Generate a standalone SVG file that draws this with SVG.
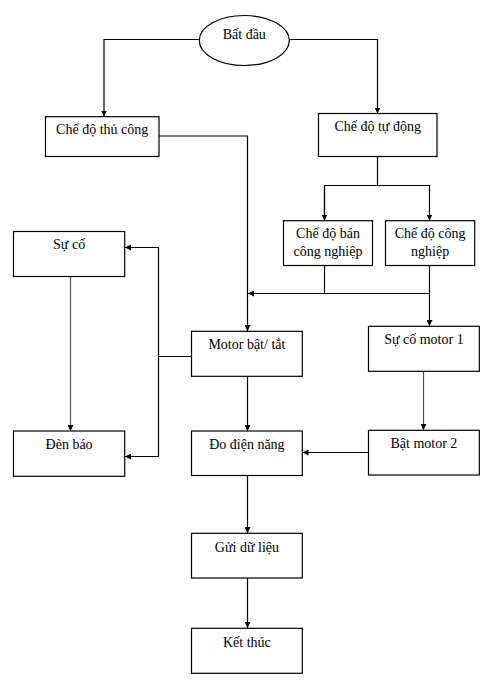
<svg xmlns="http://www.w3.org/2000/svg" width="494" height="689" viewBox="0 0 494 689">
<style>
.box{fill:#fff;stroke:#000;stroke-width:1.2}
.t{font-family:"Liberation Serif","Times New Roman",serif;font-size:14px;fill:#000;text-anchor:middle}
.c{fill:none;stroke:#000;stroke-width:1.2}
.g{stroke:#555}
</style>
<defs>
<marker id="ah" markerUnits="userSpaceOnUse" markerWidth="7" markerHeight="6" refX="6" refY="3" orient="auto">
<path d="M0,0 L6,3 L0,6 z" fill="#000"/>
</marker>
</defs>
<rect width="494" height="689" fill="#fff"/>
<g id="connectors">
<path class="c" d="M199,39.5 H104 V116.5" marker-end="url(#ah)"/>
<path class="c" d="M289,39.5 H377.5 V113.5" marker-end="url(#ah)"/>
<path class="c" d="M159,136 H247.5 V331" marker-end="url(#ah)"/>
<path class="c" d="M377.5,156.5 V185.5"/>
<path class="c" d="M324.5,220.5 V185.5 H429.5 V220.5" marker-end="url(#ah)"/>
<path class="c" d="M324.5,185.5 V220.5" marker-end="url(#ah)"/>
<path class="c" d="M324.5,265.5 V293.5"/>
<path class="c" d="M429.5,265.5 V326" marker-end="url(#ah)"/>
<path class="c" d="M429.5,293.5 H248" marker-end="url(#ah)"/>
<path class="c" d="M191.5,356.5 H158.5 V247.5 H125" marker-end="url(#ah)"/>
<path class="c" d="M158.5,356.5 V456.5 H125" marker-end="url(#ah)"/>
<path class="c g" d="M70.5,276.5 V431" marker-end="url(#ah)"/>
<path class="c" d="M247.5,376.5 V431" marker-end="url(#ah)"/>
<path class="c g" d="M423.5,371.5 V430" marker-end="url(#ah)"/>
<path class="c" d="M368.5,452.5 H302.5" marker-end="url(#ah)"/>
<path class="c" d="M247.5,475.5 V533" marker-end="url(#ah)"/>
<path class="c" d="M247.5,578 V628" marker-end="url(#ah)"/>
</g>
<g id="start">
<ellipse class="box" cx="244.3" cy="40.5" rx="45" ry="25"/>
<text class="t" x="244.3" y="38.5">Bất đầu</text>
</g>
<g id="manual">
<rect class="box" x="45.5" y="116.7" width="113.5" height="39.8"/>
<text class="t" x="102.2" y="134">Chế độ thủ công</text>
</g>
<g id="auto">
<rect class="box" x="318.5" y="113.5" width="118.5" height="43"/>
<text class="t" x="377.7" y="131">Chế độ tự động</text>
</g>
<g id="semi">
<rect class="box" x="283.5" y="220.7" width="89" height="44.8"/>
<text class="t" x="328" y="238.3">Chế độ bán</text>
<text class="t" x="328" y="256">công nghiệp</text>
</g>
<g id="industrial">
<rect class="box" x="385.5" y="220.7" width="89.2" height="44.8"/>
<text class="t" x="430.1" y="238.3">Chế độ công</text>
<text class="t" x="430.1" y="256">nghiệp</text>
</g>
<g id="fault">
<rect class="box" x="13.5" y="231.5" width="111.2" height="45"/>
<text class="t" x="69.1" y="249">Sự cố</text>
</g>
<g id="motor">
<rect class="box" x="191.5" y="331.3" width="110.8" height="45"/>
<text class="t" x="246.9" y="349">Motor bật/ tắt</text>
</g>
<g id="fault1">
<rect class="box" x="368.5" y="326.3" width="110.8" height="45"/>
<text class="t" x="423.9" y="344">Sự cố motor 1</text>
</g>
<g id="lamp">
<rect class="box" x="13.5" y="431" width="111.2" height="45.3"/>
<text class="t" x="69.1" y="449">Đèn báo</text>
</g>
<g id="measure">
<rect class="box" x="191.5" y="431" width="110.8" height="44.5"/>
<text class="t" x="246.9" y="449">Đo điện năng</text>
</g>
<g id="motor2">
<rect class="box" x="368.5" y="430.3" width="110.8" height="44.7"/>
<text class="t" x="423.9" y="448.3">Bật motor 2</text>
</g>
<g id="send">
<rect class="box" x="191.5" y="533.3" width="110.8" height="44.7"/>
<text class="t" x="246.9" y="551.5">Gửi dữ liệu</text>
</g>
<g id="end">
<rect class="box" x="191.5" y="628.3" width="110.8" height="45"/>
<text class="t" x="246.9" y="646.5">Kết thúc</text>
</g>
</svg>
